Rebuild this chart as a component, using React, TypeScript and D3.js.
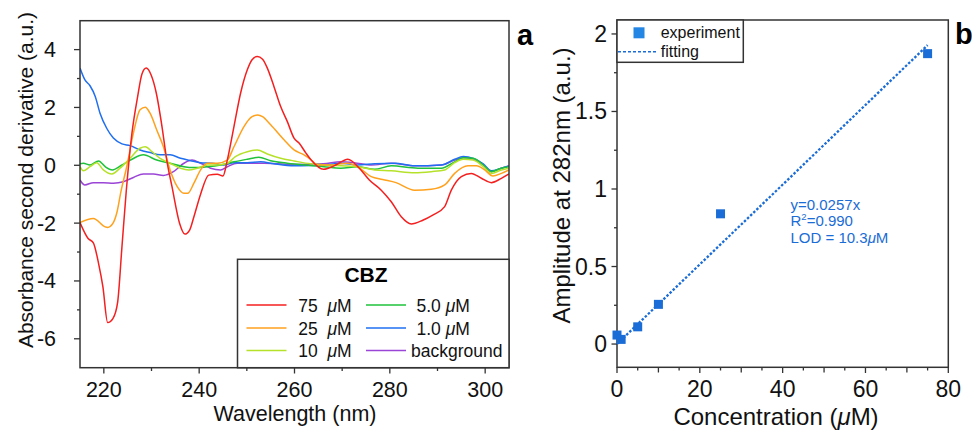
import React from "react";
import * as d3 from "d3";

type Pt = [number, number];

// ---- Panel a data (wavelength nm, second derivative a.u.) ----
const red75: Pt[] = [[215,-1.98],[216.7,-2.53],[217.8,-2.68],[218.9,-3.4],[219.8,-4.2],[220.8,-5.44],[221.9,-5.3],[222.9,-4.73],[223.8,-2.82],[224.7,-0.9],[225.9,1.11],[227.1,2.38],[228,3.16],[228.9,3.36],[229.9,3.13],[231,2.5],[232.2,1.34],[233.2,0.18],[234.3,-0.74],[235.9,-2.01],[237,-2.38],[238,-2.24],[238.9,-1.78],[240.3,-1.0],[242,-0.34],[243.8,-0.31],[245,-0.37],[245.9,0.18],[247.3,1.34],[248.7,2.5],[250.1,3.3],[251.1,3.65],[252.2,3.76],[253.3,3.67],[254.3,3.36],[255.7,2.72],[257.1,2.03],[258.5,1.51],[259.9,0.94],[261,0.76],[262.4,0.42],[263.4,0.2],[266.1,-0.14],[268.3,-0.02],[271.2,0.21],[273.6,-0.1],[275.7,-0.51],[278.2,-0.86],[280.3,-1.26],[282.4,-1.78],[284.5,-2.03],[286.9,-1.9],[289,-1.72],[291.5,-1.43],[292.9,-0.86],[295,-0.39],[297.1,-0.28],[299.2,-0.45],[301.3,-0.6],[303.4,-0.45],[305,-0.3]];
const orange25: Pt[] = [[215,-1.98],[217.8,-1.84],[220.3,-2.13],[220.8,-2.15],[221.9,-2.01],[222.7,-1.66],[223.6,-0.9],[224.8,-0.05],[226.2,1.11],[227.6,1.92],[228.7,2.01],[229.7,1.8],[231.1,1.22],[232.5,0.64],[233.9,-0.16],[235.4,-0.74],[236.8,-0.97],[237.6,-0.97],[238.9,-0.62],[240.3,-0.16],[241.7,0.07],[243.8,0.07],[245.9,0.18],[247.3,0.64],[249.4,1.34],[251.1,1.68],[252.3,1.74],[253.3,1.68],[255,1.4],[257.8,0.88],[259.9,0.53],[262,0.36],[263.4,0.2],[264.8,0.01],[267.6,0.01],[271.2,0.07],[273.2,-0.05],[276.1,-0.39],[278.5,-0.49],[281.3,-0.6],[285.2,-0.86],[288.7,-0.83],[291.5,-0.68],[293.6,-0.28],[296.4,-0.02],[298.2,-0.02],[299.9,-0.16],[301.6,-0.37],[303.4,-0.28],[305,-0.16]];
const lime10: Pt[] = [[215,-0.05],[215.7,-0.19],[217.1,-0.05],[218.5,0.09],[219.9,-0.16],[221.7,-0.3],[223.4,-0.1],[225.5,0.24],[227.6,0.59],[228.7,0.64],[230.1,0.47],[231.8,0.24],[233.9,0.07],[236.1,-0.1],[237.8,-0.16],[239.6,-0.1],[241.7,0.01],[243.8,0.01],[245.9,0.07],[247.6,0.3],[250.1,0.47],[252.2,0.53],[254.3,0.39],[257.1,0.24],[259.9,0.15],[263.4,0.05],[267.6,0],[273.2,-0.05],[276.8,-0.16],[280.3,-0.19],[285.2,-0.26],[288.7,-0.22],[291.5,-0.16],[293.6,0.09],[295.4,0.21],[297.5,0.18],[299.6,-0.05],[301.3,-0.28],[303.4,-0.16],[305,-0.1]];
const green5: Pt[] = [[215,0.05],[215.7,0.07],[217.1,0.01],[218.9,0.15],[220.3,-0.05],[221.8,-0.16],[223.8,0.01],[225.9,0.21],[228.3,0.36],[231.1,0.18],[233.9,0.07],[236.8,-0.05],[238.9,-0.08],[241.7,-0.05],[244.5,0.01],[247.3,0.12],[250.1,0.21],[252.5,0.28],[255,0.16],[258.5,0.07],[263.4,-0.01],[266.2,-0.05],[269.7,-0.1],[273.2,-0.05],[276.8,-0.14],[280.3,-0.02],[285.9,-0.1],[290.8,-0.1],[293.6,0.12],[295.4,0.26],[297.5,0.24],[299.6,0.01],[301.3,-0.22],[303.4,-0.1],[305,-0.05]];
const blue1: Pt[] = [[215,3.36],[216,2.96],[217.1,2.75],[218.2,2.38],[219.2,1.8],[220.6,1.28],[222,0.94],[223.8,0.74],[225.5,0.68],[227.6,0.53],[229.7,0.44],[231.8,0.36],[233.9,0.36],[236.1,0.24],[238.2,0.16],[240.3,0.09],[242.7,0.07],[245.2,0.01],[247.3,0.09],[250.1,0.09],[252.9,0.12],[255.7,0.05],[259.9,-0.02],[263.4,-0.01],[266.2,0.01],[269.7,0.07],[273.2,0.01],[276.8,0.05],[281,0.07],[285.2,-0.02],[290.8,0.01],[293.6,0.21],[295.4,0.3],[297.5,0.24],[299.6,0.05],[301.3,-0.19],[303.4,-0.1],[305,-0.02]];
const background: Pt[] = [[215,-0.51],[216,-0.68],[217.8,-0.6],[219.9,-0.6],[222,-0.62],[224.1,-0.57],[226.2,-0.42],[228.3,-0.3],[230.4,-0.3],[232.5,-0.35],[234.6,-0.22],[236.8,0.07],[238.5,0.18],[240.3,0.07],[242.4,-0.1],[244.5,-0.16],[245.9,-0.05],[248,0.07],[250.8,0.07],[253.6,0.07],[256.4,0.05],[259.9,0.03],[266,0.05],[269.7,0.12],[272.5,0.09],[276.1,0.01],[280.3,0.07],[285.2,-0.02],[290.8,0.01],[293.6,0.18],[295.4,0.26],[297.5,0.21],[299.6,0.01],[301.3,-0.22],[303.4,-0.1],[305,-0.02]];

const seriesNames = ["75", "25", "10", "5.0", "1.0", "background"];
const seriesColors = ["#f41f1f", "#ffa11c", "#b6e12a", "#1fc23a", "#1f6ff0", "#9b45d6"];
const seriesData = [red75, orange25, lime10, green5, blue1, background];

const xTicksA = [220, 240, 260, 280, 300];
const xMinorA = [230, 250, 270, 290];
const yTicksA = [4, 2, 0, -2, -4, -6];
const yMinorA = [3, 1, -1, -3, -5];

// ---- Panel b data ----
const concentration = [0, 1, 5, 10, 25, 75];
const amplitude = [0.058, 0.03, 0.111, 0.256, 0.84, 1.873];
const fitSlope = 0.0257;
const xTicksB = [0, 20, 40, 60, 80];
const xMinorB = [5, 10, 15, 25, 30, 35, 45, 50, 55, 65, 70, 75];
const yTicksB = [0, 0.5, 1, 1.5, 2];
const yMinorB = [0.25, 0.75, 1.25, 1.75];

const FONT = "'Liberation Sans', Arial, Helvetica, sans-serif";
const AXIS = "#333";
const BLUE = "#1a6cd6";

export default function App() {
  // Panel a scales
  const xa = d3.scaleLinear().domain([215, 305]).range([80, 509]);
  const ya = d3.scaleLinear().domain([-7, 5]).range([367.7, 20.7]);
  const lineA = d3.line<Pt>().x(d => xa(d[0])).y(d => ya(d[1])).curve(d3.curveMonotoneX);

  // Panel b scales
  const xb = d3.scaleLinear().domain([0, 80]).range([617, 948.3]);
  const yb = d3.scaleLinear().domain([-0.15, 2.09]).range([367.3, 20]);

  const drawOrder = [5, 4, 3, 2, 1, 0];

  const legendRowsY = [305, 328, 350.5];

  return (
    <svg width={972} height={431} style={{ display: "block", position: "absolute", left: 0, top: 0, background: "#fff" }} fontFamily={FONT}>
      <defs>
        <clipPath id="clipA">
          <rect x={80} y={20.7} width={429} height={347} />
        </clipPath>
      </defs>

      {/* ===== Panel a ===== */}
      <g clipPath="url(#clipA)">
        {drawOrder.map(i => (
          <path key={i} d={lineA(seriesData[i]) || ""} fill="none" stroke={seriesColors[i]} strokeWidth={1.5} strokeLinejoin="round" />
        ))}
      </g>
      <rect x={80} y={20.7} width={429} height={347} fill="none" stroke={AXIS} strokeWidth={1.5} />

      {/* x ticks a */}
      {xTicksA.map(t => (
        <g key={"xa" + t}>
          <line x1={xa(t)} x2={xa(t)} y1={367.7} y2={373.5} stroke={AXIS} strokeWidth={1.3} />
          <text x={xa(t)} y={397} fontSize={21.5} textAnchor="middle" fill="#111">{t}</text>
        </g>
      ))}
      {xMinorA.map(t => (
        <line key={"xma" + t} x1={xa(t)} x2={xa(t)} y1={367.7} y2={371} stroke={AXIS} strokeWidth={1.3} />
      ))}
      {/* y ticks a */}
      {yTicksA.map(t => (
        <g key={"ya" + t}>
          <line x1={74} x2={80} y1={ya(t)} y2={ya(t)} stroke={AXIS} strokeWidth={1.3} />
          <text x={56} y={ya(t) + 7.5} fontSize={21.5} textAnchor="end" fill="#111">{t}</text>
        </g>
      ))}
      {yMinorA.map(t => (
        <line key={"yma" + t} x1={77} x2={80} y1={ya(t)} y2={ya(t)} stroke={AXIS} strokeWidth={1.3} />
      ))}
      <text x={295} y={421} fontSize={21.5} textAnchor="middle" fill="#111">Wavelength (nm)</text>
      <text transform="translate(33,180) rotate(-90)" fontSize={21} textAnchor="middle" fill="#111">Absorbance second derivative (a.u.)</text>
      <text x={517} y={45} fontSize={29} fontWeight="bold" fill="#000">a</text>

      {/* legend a */}
      <rect x={237.5} y={259.3} width={271.5} height={108.4} fill="#fff" stroke={AXIS} strokeWidth={1.5} />
      <text x={366} y={281.5} fontSize={21} fontWeight="bold" textAnchor="middle" fill="#000">CBZ</text>
      {seriesNames.map((name, i) => {
        const col = Math.floor(i / 3);
        const row = i % 3;
        const y = legendRowsY[row];
        const lx = col === 0 ? 246.5 : 366;
        const tx = col === 0 ? 298.3 : (name === "background" ? 411 : 416.5);
        return (
          <g key={"lg" + i}>
            <line x1={lx} x2={lx + 40} y1={y} y2={y} stroke={seriesColors[i]} strokeWidth={1.6} />
            <text x={tx} y={y + 6.5} fontSize={17.5} fill="#111" style={{ whiteSpace: "pre" }}>
              {name === "background" ? "background" : (
                <>
                  {name + (col === 0 ? "  " : " ")}
                  <tspan fontStyle="italic">μ</tspan>M
                </>
              )}
            </text>
          </g>
        );
      })}

      {/* ===== Panel b ===== */}
      <rect x={617} y={20} width={331.3} height={347.3} fill="none" stroke={AXIS} strokeWidth={1.5} />
      {xTicksB.map(t => (
        <g key={"xb" + t}>
          <line x1={xb(t)} x2={xb(t)} y1={367.3} y2={373} stroke={AXIS} strokeWidth={1.3} />
          <text x={xb(t)} y={396.7} fontSize={23} textAnchor="middle" fill="#111">{t}</text>
        </g>
      ))}
      {xMinorB.map(t => (
        <line key={"xmb" + t} x1={xb(t)} x2={xb(t)} y1={367.3} y2={t % 10 === 0 ? 372.5 : 370.5} stroke={AXIS} strokeWidth={1.3} />
      ))}
      {yTicksB.map(t => (
        <g key={"yb" + t}>
          <line x1={611.5} x2={617} y1={yb(t)} y2={yb(t)} stroke={AXIS} strokeWidth={1.3} />
          <text x={607} y={yb(t) + 8} fontSize={23} textAnchor="end" fill="#111">{t}</text>
        </g>
      ))}
      {yMinorB.map(t => (
        <line key={"ymb" + t} x1={614} x2={617} y1={yb(t)} y2={yb(t)} stroke={AXIS} strokeWidth={1.3} />
      ))}
      <text x={776} y={425} fontSize={24} textAnchor="middle" fill="#111">
        Concentration (<tspan fontStyle="italic">μ</tspan>M)
      </text>
      <text transform="translate(569.5,185.5) rotate(-90)" fontSize={24} textAnchor="middle" fill="#111">Amplitude at 282nm (a.u.)</text>
      <text x={955} y={43.5} fontSize={29} fontWeight="bold" fill="#000">b</text>

      {/* fit line */}
      <line x1={xb(0)} y1={yb(0)} x2={xb(75)} y2={yb(fitSlope * 75)} stroke={BLUE} strokeWidth={2.3} strokeDasharray="2.5,1.8" />
      {concentration.map((c, i) => (
        <rect key={"pt" + i} x={xb(c) - 4.5} y={yb(amplitude[i]) - 4.5} width={9} height={9} fill={BLUE} />
      ))}

      {/* annotation */}
      <text x={790.5} y={209.5} fontSize={15} fill={BLUE}>y=0.0257x</text>
      <text x={790.5} y={226} fontSize={15} fill={BLUE}>
        R<tspan fontSize={9.5} dy={-6}>2</tspan><tspan dy={6}>=0.990</tspan>
      </text>
      <text x={790.5} y={243} fontSize={15} fill={BLUE}>
        LOD = 10.3<tspan fontStyle="italic">μ</tspan>M
      </text>

      {/* legend b */}
      <rect x={617} y={20} width={126.3} height={42.3} fill="#fff" stroke={AXIS} strokeWidth={1.5} />
      <rect x={633.5} y={27.3} width={11} height={11} fill="#2386e4" />
      <text x={660.7} y={37.5} fontSize={16} fill="#111">experiment</text>
      <line x1={618} x2={657} y1={51.7} y2={51.7} stroke={BLUE} strokeWidth={1.6} strokeDasharray="3,2" />
      <text x={660.7} y={57} fontSize={16} fill="#111">fitting</text>
    </svg>
  );
}
